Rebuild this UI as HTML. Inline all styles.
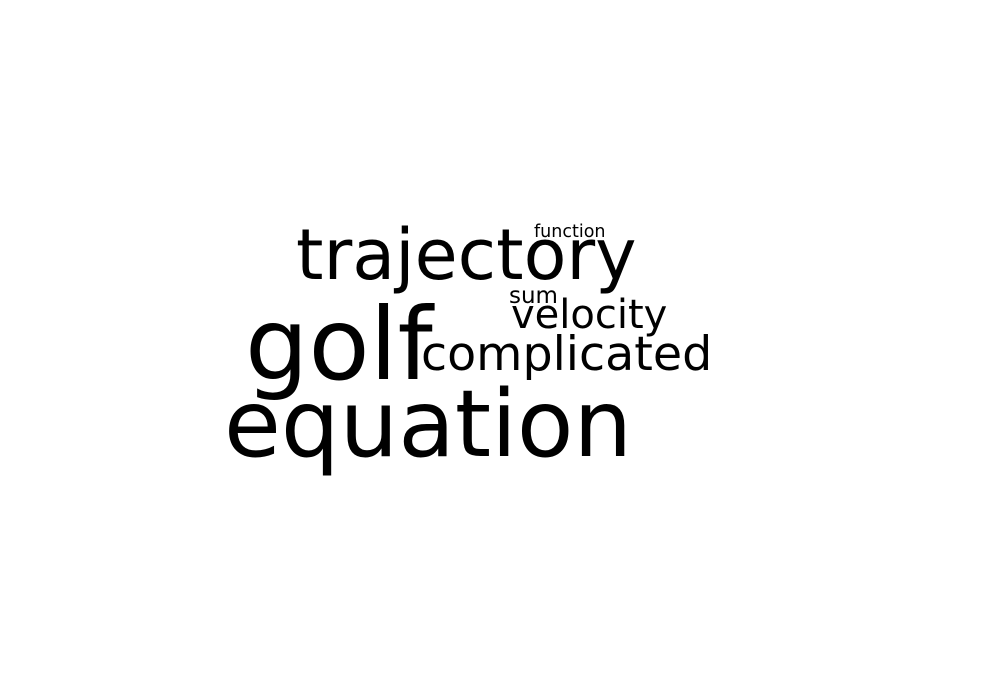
<!DOCTYPE html>
<html>
<head>
<meta charset="utf-8">
<style>
html,body{margin:0;padding:0;background:#fff;}
svg{display:block;}
text{font-family:"DejaVu Sans","Liberation Sans",sans-serif;fill:#000;}
</style>
</head>
<body>
<svg width="1000" height="700" viewBox="0 0 1000 700">
<g id="words"></g>
</svg>
<script>
const words = ["trajectory","golf","equation","complicated","velocity","sum","function"];
const sizes = [70,100,92.5,47.5,40,23,17.5];
const xs = [296,245,224,421,511,509,534];
const ys = [279,379,456,370,328,303,237];
const g = document.getElementById('words');
words.forEach((w,i)=>{
  const t = document.createElementNS('http://www.w3.org/2000/svg','text');
  t.setAttribute('x', xs[i]);
  t.setAttribute('y', ys[i]);
  t.setAttribute('font-size', sizes[i]);
  t.textContent = w;
  
  
  g.appendChild(t);
});
</script>
</body>
</html>
